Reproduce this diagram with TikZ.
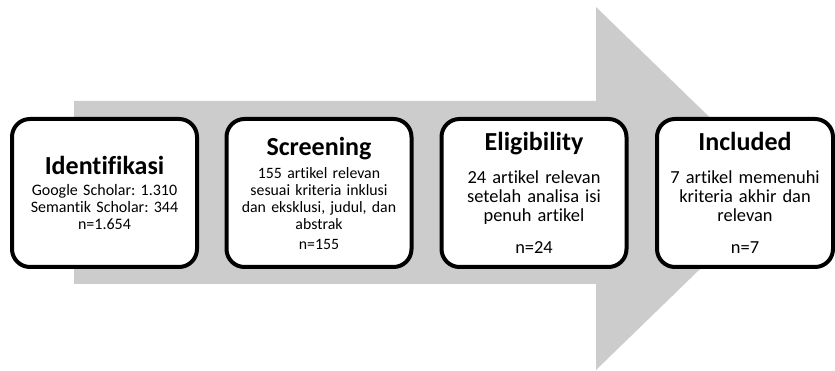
\documentclass[tikz,border=0pt]{standalone}
\usepackage{fontspec}
\setmainfont{Carlito}[Ligatures=NoCommon]
\frenchspacing
\newcommand{\stagetitle}[1]{{\fontsize{26}{30}\selectfont\bfseries #1}}
\begin{document}
\begin{tikzpicture}[x=1pt, y=1pt,
  stage/.style={draw, line width=4pt, rounded corners=18pt, fill=white,
    minimum width=185pt, minimum height=148pt, text width=180pt,
    align=center, inner sep=0pt}]
  \useasboundingbox (0,0) rectangle (835,371);

  % big grey arrow behind the stages
  \fill[gray!40] (74,87) -- (596,87) -- (596,1) -- (783,182.5)
    -- (596,364) -- (596,270) -- (74,270) -- cycle;

  \node[stage, font=\fontsize{16}{17.2}\selectfont] (ident) at (104.5,178) {
    \stagetitle{Identifikasi}\\[3.8pt]
    Google Scholar: 1.310\\
    Semantik Scholar: 344\\
    n=1.654
  };
  \node[stage, font=\fontsize{15.8}{17}\selectfont] (screen) at (319,178) {
    \stagetitle{Screening}\\[6pt]
    155 artikel relevan\\
    sesuai kriteria inklusi\\
    dan eksklusi, judul, dan\\
    abstrak\\[3pt]
    n=155
  };
  \node[stage, font=\fontsize{18.4}{19}\selectfont] (elig) at (534,178) {
    \stagetitle{Eligibility}\\[14pt]
    24 artikel relevan\\
    setelah analisa isi\\
    penuh artikel\\[13pt]
    n=24
  };
  \node[stage, minimum width=176pt, text width=172pt,
    font=\fontsize{18.4}{19}\selectfont] (incl) at (745,178) {
    \stagetitle{Included}\\[14pt]
    7 artikel memenuhi\\
    kriteria akhir dan\\
    relevan\\[13pt]
    n=7
  };
\end{tikzpicture}
\end{document}
